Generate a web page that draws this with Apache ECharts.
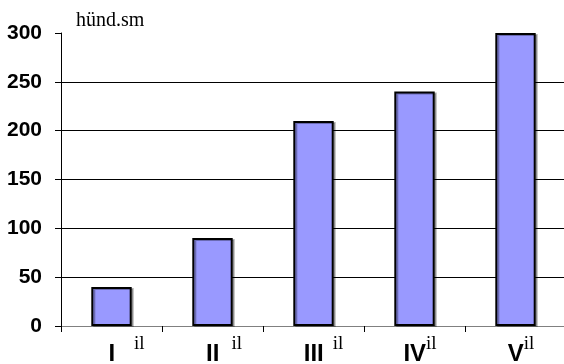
<!DOCTYPE html>
<html>
<head>
<meta charset="utf-8">
<script src="https://cdn.jsdelivr.net/npm/echarts@6/dist/echarts.min.js"></script>
<style>
  html, body { margin: 0; padding: 0; background: #fff; }
  #chart { width: 564px; height: 364px; }
</style>
</head>
<body>
<div id="chart"></div>
<script>
var romans = ['I', 'II', 'III', 'IV', 'V'];
var suffix = 'il';
var counts = [40, 90, 210, 240, 300];
var unit = 'hünd.sm';

// gap between numeral and suffix, px (label layout only)
var gaps = [19, 12, 9, 0, 0];
var rich = {
  r: { fontFamily: 'Liberation Sans, Arial', fontWeight: 'bold', fontSize: 24, color: '#000', lineHeight: 28, verticalAlign: 'bottom' },
  s: { fontFamily: 'Liberation Serif, Times New Roman', fontSize: 19, color: '#000', lineHeight: 28, verticalAlign: 'bottom', padding: [0, 0, 12, 0] }
};
gaps.forEach(function (g, i) {
  rich['p' + i] = { width: g + 11, fontSize: 1 };
  rich['g' + i] = { width: g, fontSize: 1 };
});

echarts.init(document.getElementById('chart'), null, { renderer: 'canvas' }).setOption({
  animation: false,
  title: {
    text: unit,
    left: 71,
    top: 6,
    textStyle: {
      fontFamily: 'Liberation Serif, Times New Roman',
      fontWeight: 'normal',
      fontSize: 20,
      color: '#000'
    }
  },
  grid: { left: 61, top: 33, right: -2, bottom: 38, containLabel: false, outerBoundsMode: 'none' },
  xAxis: {
    type: 'category',
    data: romans,
    axisLine: { lineStyle: { color: '#808080', width: 1 } },
    axisTick: { show: true, length: 6, lineStyle: { color: '#000' } },
    axisLabel: {
      margin: 12,
      interval: 0,
      formatter: function (v, i) {
        return '{p' + i + '| }{r|' + v + '}{g' + i + '| }{s|' + suffix + '}';
      },
      rich: rich
    }
  },
  yAxis: {
    type: 'value',
    min: 0,
    max: 300,
    interval: 50,
    axisLine: { show: true, lineStyle: { color: '#000', width: 1 } },
    axisTick: { show: true, length: 6, lineStyle: { color: '#000' } },
    axisLabel: {
      margin: 19,
      fontFamily: 'Liberation Sans, Arial',
      fontWeight: 'bold',
      fontSize: 21,
      color: '#000'
    },
    splitLine: { show: true, showMaxLine: false, lineStyle: { color: '#000', width: 1 } }
  },
  series: [{
    type: 'bar',
    data: counts,
    barWidth: '40%',
    itemStyle: {
      color: '#9999ff',
      borderColor: '#000',
      borderWidth: 2,
      shadowColor: 'rgba(0,0,0,0.3)',
      shadowOffsetX: 2,
      shadowOffsetY: 1,
      shadowBlur: 0
    }
  }]
});
</script>
</body>
</html>
